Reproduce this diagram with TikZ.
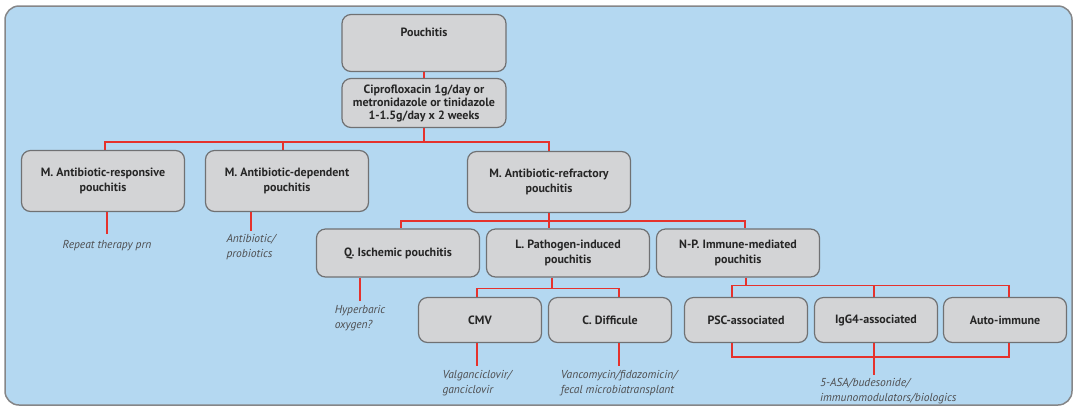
\documentclass[tikz,border=0pt]{standalone}
\usepackage{fontspec}
\setmainfont{PT Sans}
\usetikzlibrary{positioning}

\definecolor{bgblue}{RGB}{180,216,241}
\definecolor{boxgray}{RGB}{211,212,214}
\definecolor{edgegray}{RGB}{112,113,115}
\definecolor{linkred}{RGB}{229,50,45}
\definecolor{notegray}{RGB}{78,78,80}

\begin{document}
\begin{tikzpicture}[x=1pt,y=-1pt,
  box/.style={draw=edgegray,fill=boxgray,line width=1.2pt,rounded corners=9pt,align=center,font=\fontsize{12}{14.5}\selectfont\bfseries,text={black!85}},
  bigbox/.style={box,minimum width=163pt,minimum height=61pt},
  midbox/.style={box,minimum width=163pt,minimum height=48pt},
  smallbox/.style={box,minimum width=123pt,minimum height=45pt},
  link/.style={draw=linkred,line width=1.6pt},
  note/.style={align=left,font=\fontsize{11.5}{15}\selectfont\itshape,text=notegray,inner sep=1pt}]
\useasboundingbox (0,0) rectangle (1075,408);
\draw[draw=edgegray!85,fill=bgblue,line width=1.5pt,rounded corners=14pt] (5,6) rectangle (1072,405);

\node[box,minimum width=164pt,minimum height=57pt,text depth=22pt] (pouch) at (424,43){Pouchitis};
\node[box,minimum width=164pt,minimum height=49pt,font=\fontsize{12}{13}\selectfont\bfseries] (cipro) at (424,103){Ciprofloxacin 1g/day or\\metronidazole or tinidazole\\1-1.5g/day x 2 weeks};

\node[bigbox] (resp) at (103,181){M. Antibiotic-responsive\\pouchitis};
\node[bigbox] (dep) at (287,181){M. Antibiotic-dependent\\pouchitis};
\node[bigbox] (refr) at (549,182){M. Antibiotic-refractory\\pouchitis};

\node[midbox] (isch) at (398,253){Q. Ischemic pouchitis};
\node[midbox] (path) at (568,253){L. Pathogen-induced\\pouchitis};
\node[midbox] (immu) at (738,253){N-P. Immune-mediated\\pouchitis};

\node[smallbox] (cmv) at (480,320){CMV};
\node[smallbox] (cdif) at (610,320){C. Difficule};
\node[smallbox] (psc) at (746,320){PSC-associated};
\node[smallbox] (igg) at (876,320){IgG4-associated};
\node[smallbox] (auto) at (1005,320){Auto-immune};

\node[note,anchor=north] (respnote) at (107,239){Repeat therapy prn};
\node[note,anchor=north] (depnote) at (251,233){Antibiotic/\\probiotics};
\node[note,anchor=north] (ischnote) at (360,304){Hyperbaric\\oxygen?};
\node[note,anchor=north] (cmvnote) at (477,369){Valganciclovir/\\ganciclovir};
\node[note,anchor=north] (cdifnote) at (619,369){Vancomycin/fidazomicin/\\fecal microbiatransplant};
\node[note,anchor=north west] (immnote) at (819,377){5-ASA/budesonide/\\immunomodulators/biologics};

\draw[link] (pouch) -- (cipro);
\draw[link] (cipro.south) -- ++(0,14) coordinate (top);
\draw[link] ([xshift=2pt]resp.north) |- (top) -| (refr.north);
\draw[link] ([xshift=-4pt]dep.north) -- ([xshift=-4pt]dep.north |- top);

\draw[link] (refr.south) -- (refr.south |- path.north);
\path (refr.south) ++(0,8) coordinate (mid);
\draw[link] ([xshift=3pt]isch.north) |- (mid) -| ([xshift=7pt]immu.north);

\draw[link] ([xshift=-16pt]path.south) -- ++(0,11) coordinate (pat);
\draw[link] ([xshift=-3pt]cmv.north) |- (pat) -| ([xshift=9pt]cdif.north);

\draw[link] ([xshift=8pt]immu.south) -- ++(0,8) coordinate (imm);
\draw[link] ([xshift=-14pt]psc.north) |- (imm) -| ([xshift=4pt]auto.north);
\draw[link] ([xshift=-2pt]igg.north) -- ([xshift=-2pt]igg.north |- imm);
\draw[link] ([xshift=-14pt]psc.south) -- ++(0,14) coordinate (low) -| ([xshift=4pt]auto.south);

\draw[link,shorten >=5pt] (resp.south -| respnote.north) -- (respnote.north);
\draw[link,shorten >=2pt] (dep.south -| depnote.north) -- (depnote.north);
\draw[link,shorten >=3pt] (isch.south -| ischnote.north) -- (ischnote.north);
\draw[link,shorten >=3pt] (cmv.south -| cmvnote.north) -- (cmvnote.north);
\draw[link,shorten >=3pt] (cdif.south -| cdifnote.north) -- (cdifnote.north);
\draw[link,shorten >=2pt] ([xshift=-2pt]igg.south) -- ([xshift=-2pt]igg.south |- immnote.north);
\end{tikzpicture}
\end{document}
